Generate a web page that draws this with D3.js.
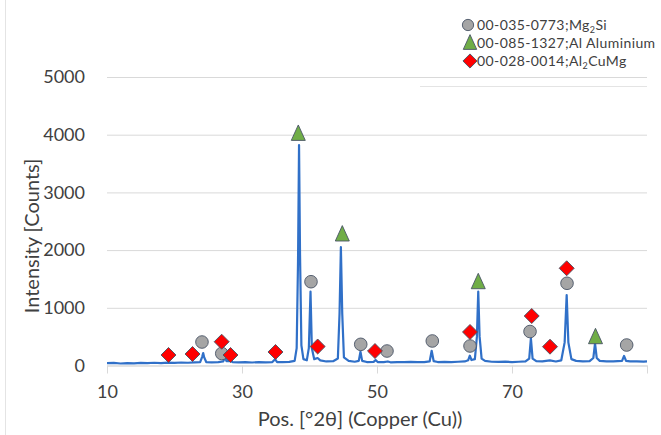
<!DOCTYPE html>
<html>
<head>
<meta charset="utf-8">
<script src="https://cdn.jsdelivr.net/npm/d3@7/dist/d3.min.js"></script>
<style>
  body { margin: 0; background: #fff; }
  svg { font-family: Lato, "Open Sans", sans-serif; }
</style>
</head>
<body>
<script>
// XRD scan: angle (°2θ) and counts
var scanAngle = [10, 11, 12, 13, 14, 15, 16, 17, 18, 19, 20, 21, 22, 23, 23.8, 24.1, 24.25, 24.4, 24.7,
  25.5, 26.5, 27.2, 27.5, 27.7, 28.3, 28.6, 29.5, 30.5, 31.5, 32.5, 33.5, 34.5, 34.9, 35.2, 36, 37,
  37.8, 38.1, 38.3, 38.45, 38.6, 38.8, 39.1, 39.6, 39.9, 40.15, 40.35, 40.7, 41.2, 41.6, 42.5, 43.5,
  44.2, 44.45, 44.65, 44.85, 45.1, 45.8, 46.7, 47.3, 47.55, 47.8, 48.5, 49.5, 49.8, 50.1, 51, 51.6,
  52, 53, 54, 55, 56, 57, 57.8, 58.1, 58.4, 59, 60, 61, 62, 63, 63.5, 63.75, 64, 64.5, 64.8, 65.0,
  65.2, 65.5, 66, 67, 68, 69, 70, 71, 72, 72.55, 72.8, 73.05, 73.6, 74.5, 75.6, 76.5, 77.3, 77.8,
  78.1, 78.35, 78.8, 79.5, 80.5, 81.5, 82.05, 82.3, 82.55, 83, 84, 85, 86.3, 86.6, 86.9, 87.5, 88.5,
  89.5, 90];
var scanCounts = [40, 45, 35, 42, 38, 45, 40, 48, 42, 50, 45, 52, 48, 55, 60, 150, 215, 140, 60,
  55, 58, 70, 140, 75, 80, 60, 55, 58, 52, 60, 55, 60, 110, 60, 58, 62,
  80, 300, 1800, 3820, 1900, 350, 110, 90, 300, 1280, 300, 110, 130, 90, 70, 75,
  120, 900, 2050, 900, 140, 80, 65, 80, 240, 80, 60, 62, 95, 60, 58, 70,
  55, 60, 57, 62, 58, 60, 70, 255, 75, 60, 62, 58, 65, 70, 90, 170, 95, 110, 500, 1280,
  500, 120, 80, 65, 62, 66, 60, 65, 70, 120, 470, 120, 75, 70, 90, 70, 90, 400,
  1220, 400, 110, 80, 70, 75, 130, 385, 130, 80, 70, 72, 80, 165, 80, 70, 72,
  68, 70];

// phase markers: [angle, counts]
var mg2si = [[24.07, 407], [27.0, 208], [40.22, 1452], [47.59, 367], [51.48, 251], [58.19, 425],
  [63.78, 338], [72.67, 589], [78.15, 1425], [86.99, 355]];
var aluminium = [[38.34, 4035], [44.86, 2291], [65.0, 1464], [82.37, 511]];
var al2cumg = [[19.11, 182], [22.67, 199], [26.99, 412], [28.3, 182], [34.96, 234], [41.21, 329],
  [49.7, 251], [63.78, 581], [72.92, 858], [75.63, 326], [78.1, 1685]];

var xTicks = [10, 30, 50, 70, 90];
var xLabels = [10, 30, 50, 70];
var yTicks = [0, 1000, 2000, 3000, 4000, 5000];

var width = 661, height = 435;
var margin = {top: 77, right: 14, bottom: 69.5, left: 107};
var w = width - margin.left - margin.right,
    h = height - margin.top - margin.bottom;

var svg = d3.select("body").append("svg")
    .attr("width", width)
    .attr("height", height);

// chart border on the left
svg.append("line").attr("x1", 5.5).attr("x2", 5.5).attr("y1", 0).attr("y2", height)
    .attr("stroke", "#e4e4e4");
svg.append("line").attr("x1", 420).attr("x2", 647).attr("y1", 86.5).attr("y2", 86.5)
    .attr("stroke", "#e4e4e4");

var g = svg.append("g").attr("transform", "translate(" + margin.left + "," + margin.top + ")");

var x = d3.scaleLinear().domain([10, 90]).range([0, w]);
var y = d3.scaleLinear().domain([0, 5000]).range([h, 0]);

// gridlines
g.append("g")
    .call(d3.axisLeft(y).tickValues(yTicks).tickSize(-w).tickFormat(""))
    .call(function (s) {
        s.select(".domain").remove();
        s.selectAll("line").attr("stroke", "#d9d9d9");
    });

// y labels
g.append("g")
    .call(d3.axisLeft(y).tickValues(yTicks).tickSize(0).tickPadding(22).tickFormat(d3.format("d")))
    .call(function (s) {
        s.select(".domain").remove();
        s.selectAll("text").attr("font-size", 18).attr("fill", "#404040")
            .attr("font-family", "Lato, 'Open Sans', sans-serif");
    });

// x axis
g.append("g")
    .attr("transform", "translate(0," + h + ")")
    .call(d3.axisBottom(x).tickValues(xTicks).tickSize(8).tickSizeOuter(0).tickPadding(12)
        .tickFormat(function (d) { return xLabels.indexOf(d) >= 0 ? d : ""; }))
    .call(function (s) {
        s.select(".domain").attr("stroke", "#d9d9d9");
        s.selectAll("line").attr("stroke", "#d9d9d9");
        s.selectAll("text").attr("font-size", 18).attr("fill", "#404040")
            .attr("font-family", "Lato, 'Open Sans', sans-serif");
    });

// scan line
var line = d3.line()
    .x(function (d, i) { return x(scanAngle[i]); })
    .y(function (d) { return y(d); });

g.append("path")
    .datum(scanCounts)
    .attr("fill", "none")
    .attr("stroke", "#3070c8")
    .attr("stroke-width", 2.2)
    .attr("stroke-linejoin", "round")
    .attr("d", line);

// marker shapes
var tallTriangle = {
    draw: function (ctx, size) {
        var s = Math.sqrt(size);
        ctx.moveTo(0, -s * 0.55);
        ctx.lineTo(s * 0.5, s * 0.55);
        ctx.lineTo(-s * 0.5, s * 0.55);
        ctx.closePath();
    }
};
var markerStroke = "#4a5566";

function drawMarkers(data, type, size, fill, rotate) {
    g.append("g").selectAll("path")
        .data(data)
        .join("path")
        .attr("transform", function (d) {
            return "translate(" + x(d[0]) + "," + y(d[1]) + ")" + (rotate ? " rotate(45)" : "");
        })
        .attr("d", d3.symbol().type(type).size(size))
        .attr("fill", fill)
        .attr("stroke", markerStroke)
        .attr("stroke-width", 0.9);
}

drawMarkers(mg2si, d3.symbolCircle, 125, "#a5a5a5", false);
drawMarkers(aluminium, tallTriangle, 196, "#70ad47", false);
drawMarkers(al2cumg, d3.symbolSquare, 112, "#ff0000", true);

// axis titles
svg.append("text")
    .attr("transform", "translate(39,236) rotate(-90)")
    .attr("text-anchor", "middle")
    .attr("font-size", 20)
    .attr("fill", "#404040")
    .text("Intensity [Counts]");

svg.append("text")
    .attr("x", 360)
    .attr("y", 426)
    .attr("text-anchor", "middle")
    .attr("font-size", 20)
    .attr("fill", "#404040")
    .text("Pos. [°2θ] (Copper (Cu))");

// legend
var legend = svg.append("g").attr("font-size", 14).attr("letter-spacing", 0.4).attr("fill", "#404040");
var legendY = [25, 43, 61];

legend.append("path")
    .attr("transform", "translate(468," + legendY[0] + ")")
    .attr("d", d3.symbol().type(d3.symbolCircle).size(100))
    .attr("fill", "#a5a5a5").attr("stroke", markerStroke).attr("stroke-width", 0.9);
legend.append("path")
    .attr("transform", "translate(470," + (legendY[1] - 1) + ")")
    .attr("d", d3.symbol().type(tallTriangle).size(180))
    .attr("fill", "#70ad47").attr("stroke", markerStroke).attr("stroke-width", 0.9);
legend.append("path")
    .attr("transform", "translate(470," + legendY[2] + ") rotate(45)")
    .attr("d", d3.symbol().type(d3.symbolSquare).size(100))
    .attr("fill", "#ff0000").attr("stroke", markerStroke).attr("stroke-width", 0.9);

var t1 = legend.append("text").attr("x", 477).attr("y", legendY[0] + 5);
t1.append("tspan").text("00-035-0773;Mg");
t1.append("tspan").attr("font-size", 9).attr("dy", 3).text("2");
t1.append("tspan").attr("dy", -3).text("Si");

legend.append("text").attr("x", 477).attr("y", legendY[1] + 5).text("00-085-1327;Al Aluminium");

var t3 = legend.append("text").attr("x", 477).attr("y", legendY[2] + 5);
t3.append("tspan").text("00-028-0014;Al");
t3.append("tspan").attr("font-size", 9).attr("dy", 3).text("2");
t3.append("tspan").attr("dy", -3).text("CuMg");
</script>
</body>
</html>
